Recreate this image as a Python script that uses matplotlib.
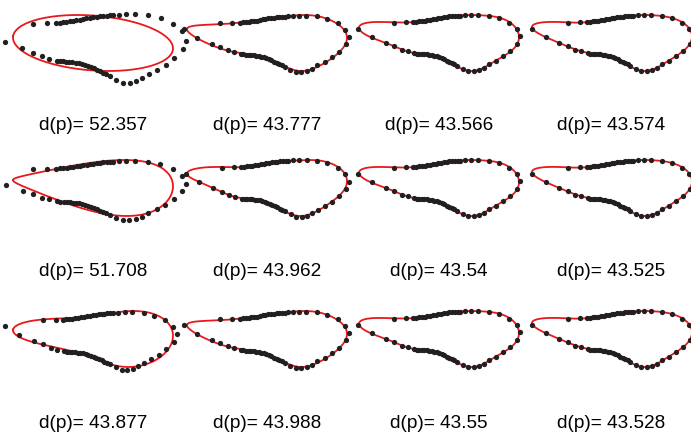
import numpy as np
import matplotlib.pyplot as plt

# contour points (clockwise from the left tip)
x_pts = [0.0, 36.0, 47.7, 55.0,
         58.0, 60.8, 63.5, 66.3, 69.0, 71.8, 74.5, 77.3, 80.0, 82.8, 85.5, 88.3,
         91.0, 93.8, 96.5, 99.3, 102.0,
         106.7, 112.7, 120.0, 130.7, 140.7, 151.0, 158.5, 162.0, 159.0, 152.0,
         145.0, 138.0, 131.0, 125.5, 120.5, 115.3, 110.0, 104.5, 99.0, 96.0,
         93.5, 91.0, 88.5, 86.0, 83.5, 81.0, 78.5, 76.0, 73.5, 71.0, 68.5, 66.0,
         63.5, 61.0, 58.5, 56.0,
         49.3, 43.3, 36.0, 27.3, 13.3]
y_pts = [43.0, 48.7, 49.0, 49.3,
         49.6, 49.9, 50.2, 50.6, 51.0, 51.4, 51.9, 52.4, 52.9, 53.4, 53.8, 54.2,
         54.5, 54.8, 55.0, 55.2, 55.4,
         55.7, 56.0, 56.0, 55.3, 53.0, 48.7, 42.7, 35.5, 28.7, 21.7,
         16.5, 12.4, 9.0, 5.8, 3.2, 2.3, 2.3, 4.5, 7.5, 9.0,
         10.0, 11.2, 12.5, 13.6, 14.6, 15.6, 16.5, 17.2, 17.7, 18.0, 18.3, 18.6,
         18.8, 19.0, 19.2, 19.5,
         21.3, 23.0, 26.0, 29.3, 34.7]

# harmonics of each fitted outline and its distance score
n_harm = [1, 5, 7, 8,
          2, 6, 7, 8,
          3, 5, 7, 8]
scores = ["52.357", "43.777", "43.566", "43.574",
          "51.708", "43.962", "43.54", "43.525",
          "43.877", "43.988", "43.55", "43.528"]


def fourier_fit(x, y, k):
    # least squares fourier outline, arc length parameter
    x = np.asarray(x)
    y = np.asarray(y)
    seg = np.hypot(np.diff(np.r_[x, x[0]]), np.diff(np.r_[y, y[0]]))
    t = np.r_[0, np.cumsum(seg)[:-1]] / seg.sum()

    def basis(tt):
        cols = [np.ones_like(tt)]
        for j in range(1, k + 1):
            cols += [np.cos(2 * np.pi * j * tt), np.sin(2 * np.pi * j * tt)]
        return np.column_stack(cols)

    A = basis(t)
    cx = np.linalg.lstsq(A, x, rcond=None)[0]
    cy = np.linalg.lstsq(A, y, rcond=None)[0]
    tf = np.linspace(0, 1, 500)
    B = basis(tf)
    return B @ cx, B @ cy


W, H = 691, 432
fig = plt.figure(figsize=(W / 100, H / 100), dpi=100)

col_left = [13, 187, 359, 532]
col_text = [93, 267, 439, 611]
row_top = [15, 160, 311]
row_text = [125, 272, 423]
box_w, box_h = 160, 56

for i in range(12):
    r, c = divmod(i, 4)
    ax = fig.add_axes([col_left[c] / W, 1 - (row_top[r] + box_h) / H,
                       box_w / W, box_h / H])
    fx, fy = fourier_fit(x_pts, y_pts, n_harm[i])
    ax.plot(x_pts, y_pts, 'o', color='#231f20', ms=3.8, mec='none',
            clip_on=False, zorder=3)
    ax.plot(fx, fy, color='#e8191c', lw=1.3, clip_on=False, zorder=2)
    ax.set_xlim(fx.min(), fx.max())
    ax.set_ylim(fy.min(), fy.max())
    ax.axis('off')
    fig.text(col_text[c] / W, 1 - row_text[r] / H, "d(p)= " + scores[i],
             ha='center', va='center', fontsize=13.7, family='Liberation Sans')

plt.savefig('out.png', dpi=100)
